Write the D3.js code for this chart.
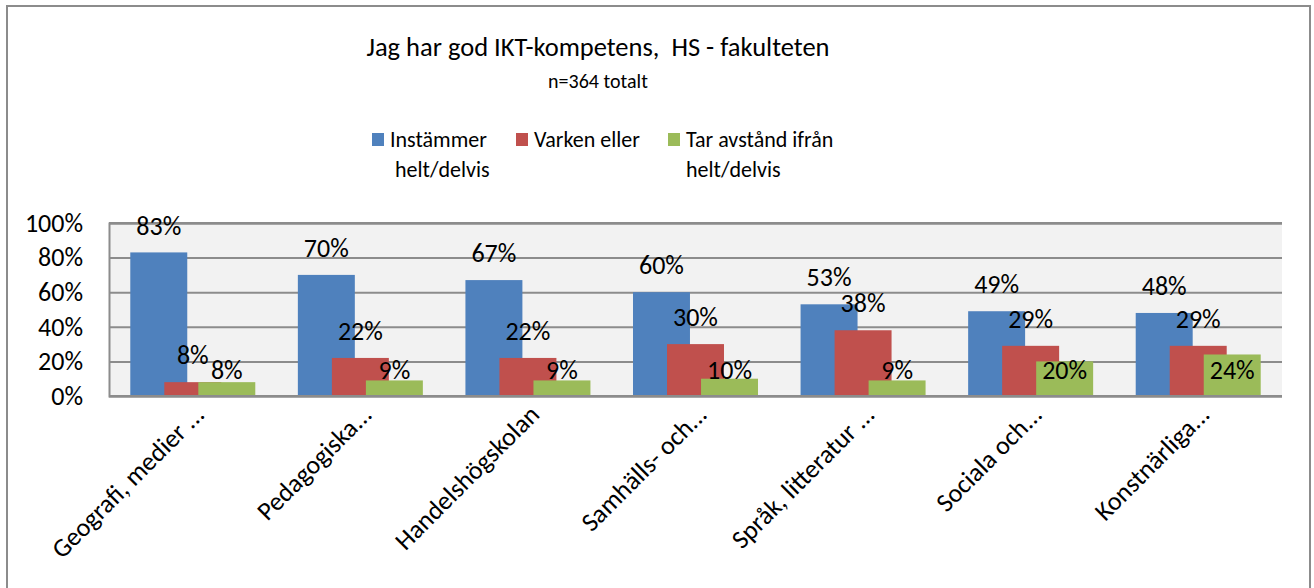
<!DOCTYPE html>
<html>
<head>
<meta charset="utf-8">
<script src="https://cdn.jsdelivr.net/npm/d3@7"></script>
<style>
  body { margin: 0; background: #fff; }
  text { font-family: Carlito, Calibri, Lato, sans-serif; fill: #000; }
</style>
</head>
<body>
<div id="chart"></div>
<script>
const categories = ['Geografi, medier ...', 'Pedagogiska...', 'Handelshögskolan', 'Samhälls- och...',
  'Språk, litteratur ...', 'Sociala och...', 'Konstnärliga...'];
const seriesNames = ['Instämmer helt/delvis', 'Varken eller', 'Tar avstånd ifrån helt/delvis'];
const instammer = [83, 70, 67, 60, 53, 49, 48];
const varken = [8, 22, 22, 30, 38, 29, 29];
const tarAvstand = [8, 9, 9, 10, 9, 20, 24];
const yTicks = [0, 20, 40, 60, 80, 100];

const colors = ['#4f81bd', '#c0504d', '#9bbb59'];
const legendLines = [['Instämmer', 'helt/delvis'], ['Varken eller'], ['Tar avstånd ifrån', 'helt/delvis']];

const width = 1314, height = 588;
const margin = { top: 223, right: 32, bottom: 192, left: 109 };
const innerW = width - margin.left - margin.right;
const innerH = height - margin.top - margin.bottom;

const svg = d3.select('#chart')
  .append('svg')
  .attr('width', width)
  .attr('height', height);

// chart frame
svg.append('rect')
  .attr('x', 7).attr('y', 6)
  .attr('width', 1303).attr('height', 600)
  .attr('fill', 'none')
  .attr('stroke', '#8c8c8c')
  .attr('stroke-width', 2);

// title
svg.append('text')
  .attr('x', 598).attr('y', 56)
  .attr('text-anchor', 'middle')
  .style('font-size', '26.5px')
  .style('white-space', 'pre')
  .text('Jag har god IKT-kompetens,  HS - fakulteten');

svg.append('text')
  .attr('x', 598).attr('y', 88)
  .attr('text-anchor', 'middle')
  .style('font-size', '20px')
  .text('n=364 totalt');

// legend
const legendX = [372, 516, 668];
seriesNames.forEach((s, i) => {
  const g = svg.append('g').attr('transform', `translate(${legendX[i]}, 133)`);
  g.append('rect')
    .attr('width', 12).attr('height', 13)
    .attr('fill', colors[i]);
  g.selectAll('text')
    .data(legendLines[i])
    .enter()
    .append('text')
    .attr('x', (d, j) => (i === 0 && j === 1) ? 23 : 18)
    .attr('y', (d, j) => 14 + j * 30)
    .style('font-size', '22px')
    .text(d => d);
});

const plot = svg.append('g')
  .attr('transform', `translate(${margin.left}, ${margin.top})`);

// X Scale
const x = d3.scaleBand()
  .domain(categories)
  .range([0, innerW]);

// series offset within a category (overlapping bars)
const xs = d3.scalePoint()
  .domain(seriesNames)
  .range([-0.203 * x.bandwidth(), 0.203 * x.bandwidth()]);
const barW = 0.34 * x.bandwidth();

// Y Scale
const y = d3.scaleLinear()
  .domain([0, 100])
  .range([innerH, 0]);

plot.append('rect')
  .attr('width', innerW)
  .attr('height', innerH)
  .attr('fill', '#f2f2f2');

// gridlines
plot.append('g')
  .call(d3.axisLeft(y).tickValues(yTicks).tickSize(-innerW).tickFormat(''))
  .call(g => g.select('.domain').attr('stroke', '#8c8c8c').attr('stroke-width', 2))
  .call(g => g.selectAll('.tick line').attr('stroke', '#8c8c8c').attr('stroke-width', 2));

plot.append('line')
  .attr('x1', 0).attr('x2', innerW)
  .attr('y1', 0).attr('y2', 0)
  .attr('stroke', '#8c8c8c').attr('stroke-width', 2);

// Y Axis labels
plot.append('g')
  .call(d3.axisLeft(y).tickValues(yTicks).tickSize(0).tickPadding(26).tickFormat(d => d + '%'))
  .call(g => g.select('.domain').remove())
  .call(g => g.selectAll('text').style('font-size', '26px').attr('font-family', null));

const table = categories.map((c, i) => ({
  cat: c,
  values: [instammer[i], varken[i], tarAvstand[i]]
}));

// Bars
seriesNames.forEach((s, si) => {
  plot.append('g')
    .selectAll('rect')
    .data(table)
    .enter()
    .append('rect')
    .attr('x', d => x(d.cat) + x.bandwidth() / 2 + xs(s) - barW / 2)
    .attr('y', d => y(d.values[si]))
    .attr('width', barW)
    .attr('height', d => innerH - y(d.values[si]))
    .attr('fill', colors[si]);
});

// bottom axis line
plot.append('line')
  .attr('x1', 0).attr('x2', innerW)
  .attr('y1', innerH).attr('y2', innerH)
  .attr('stroke', '#8c8c8c').attr('stroke-width', 2);

// value labels
seriesNames.forEach((s, si) => {
  plot.append('g')
    .selectAll('text')
    .data(table)
    .enter()
    .append('text')
    .attr('x', d => x(d.cat) + x.bandwidth() / 2 + xs(s))
    .attr('y', d => (si === 2 ? y(0) - 26 : y(d.values[si]) - 27))
    .attr('dy', '0.35em')
    .attr('text-anchor', 'middle')
    .style('font-size', '26px')
    .text(d => d.values[si] + '%');
});

// X Axis labels
plot.append('g')
  .attr('transform', `translate(0, ${innerH})`)
  .call(d3.axisBottom(x).tickSize(0).tickPadding(0))
  .call(g => g.select('.domain').remove())
  .call(g => g.selectAll('text')
    .attr('font-family', null)
    .style('font-size', '26px')
    .attr('text-anchor', 'end')
    .attr('dy', 0)
    .attr('y', 0)
    .attr('transform', 'translate(13, 20) rotate(-45)'));
</script>
</body>
</html>
